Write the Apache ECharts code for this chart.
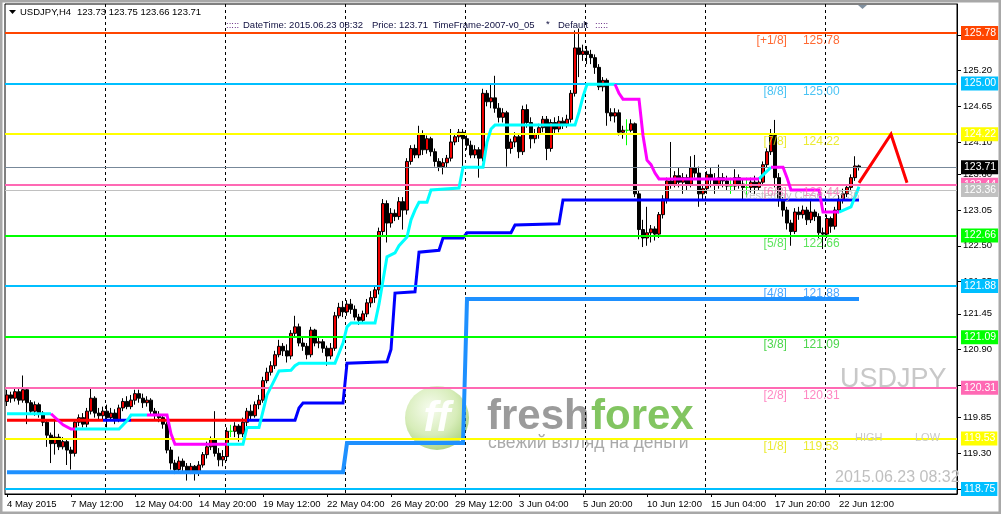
<!DOCTYPE html>
<html><head><meta charset="utf-8">
<script src="https://cdn.jsdelivr.net/npm/echarts@6/dist/echarts.min.js"></script>
<style>html,body{margin:0;padding:0;background:#fff}#c{width:1001px;height:514px}</style>
</head><body><div id="c"></div>
<script>
const FONT = '"Liberation Sans", Arial, sans-serif';
const symbolName = 'USDJPY';
const headerOHLC = '123.73 123.75 123.66 123.71';

// [open, close, low, high] per H4 bar, starting 4 May 2015 20:00
const candles = [
[120.10,120.20,120.03,120.28],[120.20,120.15,120.08,120.25],[120.15,120.25,120.10,120.30],[120.25,120.12,120.05,120.32],[120.12,120.28,120.08,120.50],
[120.28,120.08,119.75,120.30],[120.08,119.95,119.90,120.12],[119.95,120.05,119.88,120.10],[120.05,119.92,119.85,120.08],[119.92,119.78,119.72,119.95],
[119.78,119.58,119.40,119.80],[119.58,119.45,119.15,119.62],[119.45,119.55,119.28,119.80],[119.55,119.40,119.35,119.60],[119.40,119.48,119.36,119.55],
[119.48,119.35,119.12,119.52],[119.35,119.30,119.05,119.40],[119.30,119.78,119.25,119.82],[119.78,119.85,119.72,119.90],[119.85,119.75,119.70,119.92],
[119.75,119.95,119.70,120.00],[119.95,120.15,119.90,120.30],[120.15,119.92,119.85,120.18],[119.92,119.88,119.80,120.00],[119.88,119.95,119.82,120.02],
// week 2
[119.95,119.85,119.70,120.05],[119.85,119.92,119.80,120.00],[119.92,119.82,119.75,119.98],[119.82,120.00,119.78,120.05],[120.00,120.10,119.95,120.15],
[120.10,120.02,119.98,120.18],[120.02,120.12,119.98,120.20],[120.12,120.22,120.05,120.28],[120.22,120.15,120.08,120.28],[120.15,120.08,120.00,120.22],
[120.08,120.12,120.02,120.18],[120.12,119.95,119.90,120.15],[119.95,119.90,119.82,120.00],[119.90,119.85,119.78,119.95],[119.85,119.75,119.68,119.90],
[119.75,119.35,119.30,119.78],[119.35,119.15,119.05,119.40],[119.15,119.05,118.98,119.20],[119.05,119.18,119.00,119.25],[119.18,119.10,119.02,119.22],
[119.10,119.02,118.88,119.15],[119.02,119.10,118.98,119.15],[119.10,119.00,118.88,119.12],[119.00,119.12,118.95,119.18],[119.12,119.28,119.08,119.32],
[119.28,119.40,119.22,119.48],[119.40,119.52,119.35,119.56],[119.52,119.30,119.25,119.95],[119.30,119.20,119.10,119.38],[119.20,119.25,119.10,119.35],
// week 3
[119.25,119.64,119.18,119.70],[119.64,119.64,119.55,119.74],[119.64,119.72,119.55,119.78],[119.72,119.60,119.48,119.75],[119.60,119.78,119.55,119.85],
[119.78,119.95,119.72,120.00],[119.95,119.88,119.82,120.05],[119.88,120.05,119.85,120.10],[120.05,120.12,119.98,120.20],[120.12,120.42,120.08,120.48],
[120.42,120.55,120.38,120.62],[120.55,120.65,120.50,120.72],[120.65,120.82,120.60,120.88],[120.82,120.95,120.78,121.05],[120.95,120.88,120.80,121.00],
[120.88,120.80,120.70,120.98],[120.80,121.15,120.75,121.20],[121.15,121.25,121.10,121.42],[121.25,121.00,120.95,121.30],[121.00,120.95,120.88,121.08],
[120.95,120.82,120.75,121.00],[120.82,121.20,120.78,121.25],[121.20,121.00,120.95,121.22],[121.00,121.02,120.92,121.10],[121.02,120.92,120.85,121.06],
[120.92,120.80,120.65,120.96],[120.80,120.92,120.75,121.00],[120.92,121.42,120.88,121.48],[121.42,121.55,121.38,121.62],[121.55,121.48,121.40,121.65],
// week 4
[121.48,121.60,121.42,121.66],[121.60,121.52,121.45,121.68],[121.52,121.40,121.35,121.58],[121.40,121.35,121.28,121.45],[121.35,121.45,121.30,121.50],
[121.45,121.62,121.40,121.68],[121.62,121.70,121.55,121.80],[121.70,121.82,121.62,121.88],[121.82,122.72,121.75,122.78],[122.72,123.15,122.65,123.22],
[123.15,122.85,122.55,123.20],[122.85,123.00,122.78,123.08],[123.00,122.95,122.88,123.06],[122.95,123.18,122.90,123.25],[123.18,123.05,122.75,123.25],
[123.05,123.80,122.98,123.85],[123.80,124.00,123.75,124.05],[124.00,123.90,123.85,124.06],[123.90,124.22,123.85,124.35],[124.22,123.98,123.90,124.28],
[123.98,124.15,123.92,124.20],[124.15,123.95,123.88,124.18],[123.95,123.80,123.72,124.00],[123.80,123.72,123.65,123.85],[123.72,123.78,123.60,123.85],
[123.78,123.85,123.70,123.90],[123.85,124.10,123.80,124.30],[124.10,124.18,124.05,124.22],[124.18,124.25,124.10,124.30],[124.25,124.15,123.60,124.30],
// week 5
[124.15,124.05,123.98,124.20],[124.05,123.90,123.85,124.12],[123.90,123.98,123.85,124.05],[123.98,123.85,123.55,124.02],[123.85,124.85,123.80,124.92],
[124.85,124.72,124.65,124.90],[124.72,124.78,124.62,125.00],[124.78,124.62,124.55,125.12],[124.62,124.48,124.40,124.70],[124.48,124.55,124.40,124.62],
[124.55,124.00,123.72,124.58],[124.00,124.10,123.92,124.15],[124.10,124.18,124.02,124.25],[124.18,123.95,123.85,124.22],[123.95,124.60,123.90,124.66],
[124.60,124.40,124.32,124.68],[124.40,124.15,124.00,124.48],[124.15,124.22,124.08,124.30],[124.22,124.32,124.15,124.38],[124.32,124.45,124.25,124.50],
[124.45,124.00,123.82,124.50],[124.00,124.40,123.95,124.45],[124.40,124.30,124.22,124.48],[124.30,124.42,124.25,124.50],[124.42,124.38,124.30,124.48],
[124.38,124.45,124.32,124.52],[124.45,124.85,124.40,124.90],[124.85,125.55,124.80,125.82],[125.55,125.45,125.10,125.85],[125.45,125.50,125.35,125.60],
// week 6
[125.50,125.45,125.30,125.58],[125.45,125.40,125.30,125.52],[125.40,125.25,125.15,125.45],[125.25,124.95,124.90,125.30],[124.95,125.05,124.88,125.10],
[125.05,124.55,124.35,125.08],[124.55,124.50,124.42,124.62],[124.50,124.55,124.40,124.62],[124.55,124.25,124.20,124.60],[124.25,124.28,124.15,124.35],
[124.28,124.28,124.05,124.45],[124.28,124.38,124.25,124.45],[124.38,123.30,123.25,124.40],[123.30,122.75,122.60,123.35],[122.75,122.62,122.48,122.90],
[122.62,122.70,122.50,123.10],[122.70,122.76,122.55,122.82],[122.76,122.68,122.58,122.80],[122.68,122.98,122.62,123.02],[122.98,123.22,122.92,123.28],
[123.22,123.50,123.15,123.55],[123.50,123.45,123.38,124.10],[123.45,123.58,123.40,123.65],[123.58,123.48,123.40,123.70],[123.48,123.55,123.30,123.62],
[123.55,123.45,123.35,123.60],[123.45,123.70,123.40,123.88],[123.70,123.62,123.55,123.90],[123.62,123.30,123.10,123.72],[123.30,123.38,123.22,123.45],
// week 7
[123.38,123.60,123.30,123.65],[123.60,123.52,123.40,123.70],[123.52,123.45,123.30,123.62],[123.45,123.55,123.38,123.75],[123.55,123.50,123.40,123.62],
[123.50,123.42,123.35,123.58],[123.42,123.42,123.30,123.55],[123.42,123.55,123.35,123.68],[123.55,123.45,123.38,123.60],[123.45,123.40,123.22,123.52],
[123.40,123.40,123.25,123.55],[123.40,123.48,123.32,123.55],[123.48,123.40,123.30,123.58],[123.40,123.48,123.35,123.55],[123.48,123.75,123.42,123.80],
[123.75,123.95,123.70,124.00],[123.95,124.20,123.90,124.30],[124.20,123.55,123.40,124.44],[123.55,123.20,123.10,123.62],[123.20,123.05,122.95,123.25],
[123.05,122.85,122.75,123.10],[122.85,122.72,122.50,122.90],[122.72,123.02,122.68,123.08],[123.02,122.98,122.90,123.10],[122.98,123.05,122.92,123.12],
[123.05,122.90,122.82,123.10],[122.90,123.02,122.85,123.20],[123.02,122.95,122.88,123.06],[122.95,122.70,122.62,123.00],[122.70,122.68,122.45,122.78],
// week 8
[122.68,122.92,122.62,122.98],[122.92,122.80,122.70,122.95],[122.80,123.05,122.75,123.10],[123.05,123.20,123.00,123.28],[123.20,123.30,123.15,123.38],
[123.30,123.40,123.25,123.45],[123.40,123.55,123.35,123.60],[123.55,123.73,123.50,123.88],[123.73,123.71,123.66,123.75]
];
const dojiBars = [56, 155, 181, 185];

const barCount = 238;
const xTickLabels = ['4 May 2015','7 May 12:00','12 May 04:00','14 May 20:00','19 May 12:00','22 May 04:00','26 May 20:00','29 May 12:00','3 Jun 04:00','5 Jun 20:00','10 Jun 12:00','15 Jun 04:00','17 Jun 20:00','22 Jun 12:00'];
const xTickStep = 16;
const weekStarts = [25, 55, 85, 115, 145, 175, 205];

const yTicks = [118.75,119.30,119.85,120.35,120.90,121.45,121.95,122.50,123.05,123.60,124.10,124.65,125.20,125.75];
const yMin = 118.673, yMax = 126.227;

const murreyLevels = [125.78,125.00,124.22,123.44,122.66,121.88,121.09,120.31,119.53,118.75];
const murreyNames  = ['[+1/8]','[8/8]','[7/8]','[6/8]','[5/8]','[4/8]','[3/8]','[2/8]','[1/8]','[0/8]'];
const murreyColors = ['#FF4500','#00BFFF','#FFFF00','#FF69B4','#00FF00','#00BFFF','#00FF00','#FF69B4','#FFFF00','#00BFFF'];
const murreyTextColors = ['#FF4500','#1EB4F0','#E6E600','#FF69B4','#33DD33','#1E90FF','#22CC22','#FF69B4','#E6E600'];
const currentPrice = 123.71;
const yesterdayClose = 123.36;

// indicator lines: [bar, price]
const fastCyanSegs = [
  [[0,119.91],[11,119.91]],
  [[17,119.675],[28,119.675],[30,119.80],[31,119.89],[35,119.89]],
  [[55,119.44],[59,119.44],[60,119.70],[63,119.70],[65,120.20],[68,120.57],[71,120.58],[72,120.65],[73,120.69],[82,120.69],[84,121.00],[85,121.25],[86,121.31],[92,121.31],[93,121.60],[95,122.33],[97,122.39],[98,122.50],[100,122.635],[101,122.90],[102,123.05],[103,123.17],[105,123.17],[106,123.36],[113,123.39],[114,123.71],[119,123.71],[120,124.10],[121,124.30],[122,124.36],[142,124.36],[143,124.56],[144,124.80],[145,124.99],[152,124.99]],
  [[188,123.53],[191,123.71]],
  [[208,123.02],[211,123.10],[213,123.41]]
];
const fastMagentaSegs = [
  [[11,119.91],[14,119.74],[16,119.675],[17,119.675]],
  [[35,119.89],[40,119.89],[41,119.60],[42,119.44],[55,119.44]],
  [[152,124.99],[153,124.85],[154,124.76],[158,124.76],[159,124.20],[160,123.82],[161,123.75],[162,123.62],[163,123.53],[188,123.53]],
  [[191,123.71],[194,123.71],[195,123.55],[196,123.36],[203,123.36],[204,123.02],[208,123.02]]
];
const slowRedSegs = [
  [[0,119.81],[24,119.81]],
  [[31,119.81],[60,119.81]]
];
const slowBlueSegs = [
  [[24,119.81],[31,119.81]],
  [[60,119.81],[72,119.81],[73,120.00],[74,120.075],[84,120.075],[85,120.69],[95,120.71],[96,120.90],[97,121.77],[102,121.79],[103,122.40],[108,122.43],[109,122.62],[114,122.62],[115,122.70],[126,122.70],[127,122.82],[138,122.84],[139,123.205],[213,123.205]]
];
const lowerLine = [[0,119.01],[84,119.01],[85,119.46],[114,119.46],[115,121.68],[213,121.68]];
const forecast = [[213,123.47],[221,124.22],[225,123.47]];

const categories = Array.from({length: barCount}, (_, i) => String(i));
const candleData = candles.map((c, i) => dojiBars.includes(i)
  ? {value: c, itemStyle: {color:'#00FF00', color0:'#00FF00', borderColor:'#00FF00', borderColor0:'#00FF00', borderColorDoji:'#00FF00'}}
  : c);

function lineSeries(data, color, width, z) {
  return {type:'line', data, showSymbol:false, symbol:'none', silent:true, z,
    lineStyle:{color, width, cap:'butt', join:'miter'}, animation:false};
}

const markLineData = murreyLevels.map((v, i) => ({
  yAxis: v, lineStyle: {color: murreyColors[i], width: 2, type: 'solid'},
  label: {backgroundColor: murreyColors[i]}
}));
markLineData.push({yAxis: currentPrice, lineStyle:{color:'#778899', width:1, type:'solid'}, label:{backgroundColor:'#000'}});
markLineData.push({yAxis: yesterdayClose, lineStyle:{color:'#C0C0C0', width:1, type:'solid'}, label:{backgroundColor:'#C0C0C0'}});

const series = [];
series.push({type:'line', data:[], z:1, silent:true,
  markLine:{symbol:['none','none'], silent:true, animation:false,
    label:{show:true, position:'end', distance:4, formatter: p => Number(p.value).toFixed(2),
      color:'#fff', padding:[2,2,1,3], fontSize:10.5, fontFamily:FONT},
    data: markLineData}});
series.push({type:'candlestick', data: candleData, z:3, barWidth:3, silent:true,
  itemStyle:{color:'#EE0000', color0:'#000000', borderColor:'#000000', borderColor0:'#000000', borderWidth:1}});
slowRedSegs.forEach(s => series.push(lineSeries(s, '#FF0000', 3, 4)));
slowBlueSegs.forEach(s => series.push(lineSeries(s, '#0000FF', 3, 4)));
series.push(lineSeries(lowerLine, '#1E90FF', 4, 4));
fastCyanSegs.forEach(s => series.push(lineSeries(s, '#00FFFF', 3, 5)));
fastMagentaSegs.forEach(s => series.push(lineSeries(s, '#FF00FF', 3, 5)));
series.push(lineSeries(forecast, '#FF0000', 3, 6));

// Murrey labels inside the chart
series.push({type:'scatter', z:7, silent:true, symbolSize:0.1, itemStyle:{color:'transparent'},
  data: murreyLevels.slice(0, 9).map((v, i) => ({value:[195, v], label:{formatter: murreyNames[i], color: murreyTextColors[i]}})),
  label:{show:true, position:[0,2], align:'right', verticalAlign:'top', fontSize:12, fontFamily:FONT}});
series.push({type:'scatter', z:7, silent:true, symbolSize:0.1, itemStyle:{color:'transparent'},
  data: murreyLevels.slice(0, 9).map((v, i) => ({value:[199, v], label:{formatter: v.toFixed(2), color: murreyTextColors[i]}})),
  label:{show:true, position:[0,2], align:'left', verticalAlign:'top', fontSize:12, fontFamily:FONT}});
series.push({type:'scatter', z:8, silent:true, symbolSize:0.1, itemStyle:{color:'transparent'},
  data: [{value:[184, yesterdayClose], label:{formatter:'Yesterday Close ' + yesterdayClose.toFixed(2)}}],
  label:{show:true, position:[0,1], align:'left', verticalAlign:'top', fontSize:11, fontFamily:FONT, color:'#B4B4B4'}});

const showTick = i => i % xTickStep === 0 && i / xTickStep < xTickLabels.length;

const option = {
  animation:false,
  backgroundColor:'#fff',
  textStyle:{fontFamily:FONT},
  grid:{left:5, right:44, top:4, bottom:20, show:true, borderColor:'#000', borderWidth:1, backgroundColor:'transparent'},
  xAxis:{type:'category', data:categories, boundaryGap:true,
    axisLine:{show:true, lineStyle:{color:'#000'}},
    axisTick:{show:true, alignWithLabel:true, interval:(i)=>showTick(i), length:3, lineStyle:{color:'#000'}},
    axisLabel:{interval:(i)=>showTick(i), formatter:(v, i)=>xTickLabels[i / xTickStep] || '', align:'left', color:'#000', fontSize:9.5, fontFamily:FONT, margin:5},
    splitLine:{show:true, interval:(i)=>weekStarts.includes(i), lineStyle:{color:'#000', type:[3,3], width:1}}
  },
  yAxis:{type:'value', position:'right', min:yMin, max:yMax, scale:true,
    axisLine:{show:true, lineStyle:{color:'#000'}},
    axisTick:{show:true, customValues:yTicks, length:4, lineStyle:{color:'#000'}},
    axisLabel:{customValues:yTicks, formatter:v=>Number(v).toFixed(2), color:'#000', fontSize:9.5, fontFamily:FONT, margin:6},
    splitLine:{show:false}
  },
  graphic:{elements:[
    {type:'rect', z:0, silent:true, shape:{x:0, y:0, width:1001, height:514}, style:{fill:'none', stroke:'#A8A8A8', lineWidth:5}},
    {type:'polygon', z:100, silent:true, shape:{points:[[9,10],[16,10],[12.5,14]]}, style:{fill:'#000'}},
    {type:'text', z:100, silent:true, style:{x:20, y:12, text:symbolName + ',H4', fill:'#000', font:'9.5px ' + FONT, verticalAlign:'middle'}},
    {type:'text', z:100, silent:true, style:{x:77, y:12, text:headerOHLC, fill:'#000', font:'9.5px ' + FONT, verticalAlign:'middle'}},
    {type:'text', z:100, silent:true, style:{x:226, y:25, text:':::::', fill:'#5a1a7a', font:'9.5px ' + FONT, verticalAlign:'middle'}},
    {type:'text', z:100, silent:true, style:{x:243, y:25, text:'DateTime: 2015.06.23 08:32', fill:'#101040', font:'9.5px ' + FONT, verticalAlign:'middle'}},
    {type:'text', z:100, silent:true, style:{x:372, y:25, text:'Price: 123.71', fill:'#101040', font:'9.5px ' + FONT, verticalAlign:'middle'}},
    {type:'text', z:100, silent:true, style:{x:433, y:25, text:'TimeFrame-2007-v0_05', fill:'#101040', font:'9.5px ' + FONT, verticalAlign:'middle'}},
    {type:'text', z:100, silent:true, style:{x:546, y:24, text:'*', fill:'#101040', font:'9.5px ' + FONT, verticalAlign:'middle'}},
    {type:'text', z:100, silent:true, style:{x:558, y:25, text:'Default', fill:'#101040', font:'9.5px ' + FONT, verticalAlign:'middle'}},
    {type:'text', z:100, silent:true, style:{x:595, y:25, text:':::::', fill:'#5a1a7a', font:'9.5px ' + FONT, verticalAlign:'middle'}},
    {type:'polygon', z:100, silent:true, shape:{points:[[858,5],[867,5],[862.5,9]]}, style:{fill:'#8090A0'}},
    // watermark
    {type:'circle', z:0, silent:true, shape:{cx:437, cy:418, r:32},
      style:{fill:{type:'radial', x:0.4, y:0.35, r:0.75, colorStops:[{offset:0,color:'#F4FBEA'},{offset:0.55,color:'#CDE8A8'},{offset:1,color:'#8CC152'}]}, opacity:0.8}},
    {type:'text', z:0, silent:true, style:{x:437, y:419, text:'ff', fill:'#FFFFFF', font:'italic bold 42px ' + FONT, align:'center', verticalAlign:'middle', opacity:0.95}},
    {type:'text', z:0, silent:true, style:{x:487, y:417, text:'fresh', fill:'#8A8A8A', font:'bold 42px ' + FONT, verticalAlign:'middle', opacity:0.85}},
    {type:'text', z:0, silent:true, style:{x:591, y:417, text:'forex', fill:'#6CBB45', font:'bold 42px ' + FONT, verticalAlign:'middle', opacity:0.85}},
    {type:'text', z:0, silent:true, style:{x:488, y:443, text:'свежий взгляд на деньги', fill:'#A0A0A0', font:'17.5px ' + FONT, verticalAlign:'middle', opacity:0.9}},
    // overlay texts
    {type:'text', z:100, silent:true, style:{x:840, y:380, text:symbolName, fill:'#C8C8C8', font:'27px ' + FONT, verticalAlign:'middle'}},
    {type:'text', z:100, silent:true, style:{x:855, y:438, text:'HIGH', fill:'#C8C8C8', font:'11px ' + FONT, verticalAlign:'middle'}},
    {type:'text', z:100, silent:true, style:{x:915, y:438, text:'LOW', fill:'#C8C8C8', font:'11px ' + FONT, verticalAlign:'middle'}},
    {type:'text', z:100, silent:true, style:{x:835, y:478, text:'2015.06.23 08:32', fill:'#C0C0C0', font:'16px ' + FONT, verticalAlign:'middle'}}
  ]},
  series
};

const chart = echarts.init(document.getElementById('c'), null, {renderer:'canvas'});
chart.setOption(option);
</script>
</body></html>
